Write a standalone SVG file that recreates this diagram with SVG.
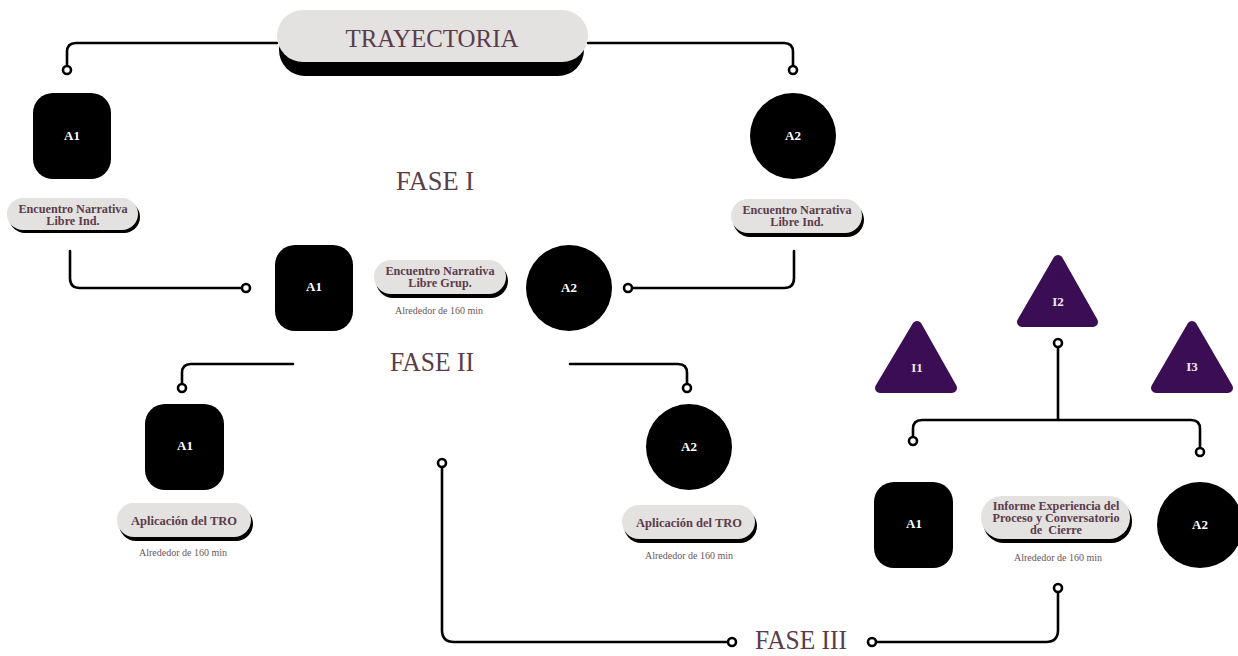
<svg xmlns="http://www.w3.org/2000/svg" width="1238" height="656" viewBox="0 0 1238 656">
<style>
.wire{fill:none;stroke:#000;stroke-width:2.6;stroke-linecap:round;stroke-linejoin:round}
.dot{fill:#fff;stroke:#000;stroke-width:2.6}
.node{fill:#000}
.nlab{font-family:"Liberation Serif",serif;font-weight:bold;font-size:13px;fill:#fff;text-anchor:middle}
.pill{fill:#e4e1e1}
.pshadow{fill:#000}
.ptxt{font-family:"Liberation Serif",serif;font-weight:bold;font-size:12.2px;fill:#5a3c4a;text-anchor:middle}
.ptxt2{font-family:"Liberation Serif",serif;font-weight:bold;font-size:12.5px;fill:#5a3c4a;text-anchor:middle}
.note{font-family:"Liberation Serif",serif;font-size:10px;fill:#6a5560;text-anchor:middle}
.fase{font-family:"Liberation Serif",serif;font-size:27px;fill:#5a3c4a;text-anchor:middle}
.tri{fill:#3b0d55;stroke:#3b0d55;stroke-width:10;stroke-linejoin:round}
.tlab{font-family:"Liberation Serif",serif;font-weight:bold;font-size:13px;fill:#efe6f0;text-anchor:middle}
</style>

<g id="connectors">
  <path class="wire" d="M277 43 H76 Q67 43 67 52 V66"/>
  <circle class="dot" cx="67" cy="70" r="4"/>
  <path class="wire" d="M588 43 H784 Q793 43 793 52 V66"/>
  <circle class="dot" cx="793" cy="70" r="4"/>
  <path class="wire" d="M70 251 V278 Q70 288 80 288 H242"/>
  <circle class="dot" cx="246" cy="288" r="4"/>
  <path class="wire" d="M794 251 V278 Q794 288 784 288 H632"/>
  <circle class="dot" cx="628" cy="288" r="4"/>
  <path class="wire" d="M293 364 H191 Q182 364 182 373 V384"/>
  <circle class="dot" cx="182" cy="388" r="4"/>
  <path class="wire" d="M570 364 H678 Q687 364 687 373 V384"/>
  <circle class="dot" cx="687" cy="388" r="4"/>
  <path class="wire" d="M442 467 V630 Q442 642 454 642 H728"/>
  <circle class="dot" cx="442" cy="463" r="4"/>
  <circle class="dot" cx="732" cy="642" r="4"/>
  <path class="wire" d="M876 642 H1046 Q1058 642 1058 630 V592"/>
  <circle class="dot" cx="872" cy="642" r="4"/>
  <circle class="dot" cx="1058" cy="588" r="4"/>
  <path class="wire" d="M1058 347 V420"/>
  <circle class="dot" cx="1058" cy="343" r="4"/>
  <path class="wire" d="M913 437 V429 Q913 420 922 420 H1191 Q1200 420 1200 429 V448"/>
  <circle class="dot" cx="913" cy="441" r="4"/>
  <circle class="dot" cx="1200" cy="452" r="4"/>
</g>

<g id="trayectoria">
  <rect class="pshadow" x="279" y="23" width="305" height="53" rx="26"/>
  <rect class="pill" x="277" y="10" width="311" height="52" rx="26"/>
  <text x="432" y="47" font-family="Liberation Serif, serif" font-size="26" fill="#5a3c4a" text-anchor="middle" textLength="173" lengthAdjust="spacingAndGlyphs">TRAYECTORIA</text>
</g>

<g id="fase1"><text class="fase" x="435" y="190" textLength="78" lengthAdjust="spacingAndGlyphs">FASE I</text></g>
<g id="fase2"><text class="fase" x="432" y="371" textLength="84" lengthAdjust="spacingAndGlyphs">FASE II</text></g>
<g id="fase3"><text class="fase" x="801" y="649" textLength="92" lengthAdjust="spacingAndGlyphs">FASE III</text></g>

<g id="a1-top">
  <rect class="node" x="33" y="93" width="78" height="86" rx="20"/>
  <text class="nlab" x="72" y="140">A1</text>
</g>
<g id="pill-ind-left">
  <rect class="pshadow" x="9" y="201" width="131" height="32" rx="16"/>
  <rect class="pill" x="7" y="198" width="131" height="32" rx="16"/>
  <text class="ptxt" x="73" y="213">Encuentro Narrativa</text>
  <text class="ptxt" x="73" y="225">Libre Ind.</text>
</g>

<g id="a2-top">
  <circle class="node" cx="793" cy="136" r="43"/>
  <text class="nlab" x="793" y="140">A2</text>
</g>
<g id="pill-ind-right">
  <rect class="pshadow" x="733" y="203" width="131" height="34" rx="17"/>
  <rect class="pill" x="731" y="199" width="131" height="34" rx="17"/>
  <text class="ptxt" x="797" y="214">Encuentro Narrativa</text>
  <text class="ptxt" x="797" y="226">Libre Ind.</text>
</g>

<g id="a1-mid">
  <rect class="node" x="275" y="245" width="78" height="86" rx="20"/>
  <text class="nlab" x="314" y="291">A1</text>
</g>
<g id="pill-grup">
  <rect class="pshadow" x="376" y="264" width="132" height="34" rx="17"/>
  <rect class="pill" x="374" y="260" width="132" height="34" rx="17"/>
  <text class="ptxt" x="440" y="275">Encuentro Narrativa</text>
  <text class="ptxt" x="440" y="287">Libre Grup.</text>
  <text class="note" x="439" y="314">Alrededor de 160 min</text>
</g>
<g id="a2-mid">
  <circle class="node" cx="569" cy="288" r="43"/>
  <text class="nlab" x="569" y="292">A2</text>
</g>

<g id="a1-bottom">
  <rect class="node" x="145" y="404" width="79" height="86" rx="20"/>
  <text class="nlab" x="185" y="450">A1</text>
</g>
<g id="pill-tro-left">
  <rect class="pshadow" x="119" y="507" width="134" height="34" rx="17"/>
  <rect class="pill" x="117" y="503" width="134" height="34" rx="17"/>
  <text class="ptxt2" x="184" y="525">Aplicación del TRO</text>
  <text class="note" x="183" y="556">Alrededor de 160 min</text>
</g>

<g id="a2-bottom">
  <circle class="node" cx="689" cy="447" r="43"/>
  <text class="nlab" x="689" y="451">A2</text>
</g>
<g id="pill-tro-right">
  <rect class="pshadow" x="624" y="509" width="133" height="34" rx="17"/>
  <rect class="pill" x="622" y="505" width="133" height="34" rx="17"/>
  <text class="ptxt2" x="689" y="527">Aplicación del TRO</text>
  <text class="note" x="689" y="559">Alrededor de 160 min</text>
</g>

<g id="i1">
  <polygon class="tri" points="917,326 880,388 952,388"/>
  <text class="tlab" x="917" y="372">I1</text>
</g>
<g id="i2">
  <polygon class="tri" points="1058,260 1022,322 1093,322"/>
  <text class="tlab" x="1058" y="306">I2</text>
</g>
<g id="i3">
  <polygon class="tri" points="1192,326 1156,388 1228,388"/>
  <text class="tlab" x="1192" y="371">I3</text>
</g>

<g id="a1-right">
  <rect class="node" x="874" y="482" width="79" height="86" rx="20"/>
  <text class="nlab" x="914" y="528">A1</text>
</g>
<g id="pill-informe">
  <rect class="pshadow" x="983" y="500" width="149" height="43" rx="21"/>
  <rect class="pill" x="981" y="496" width="149" height="43" rx="21"/>
  <text class="ptxt" x="1056" y="510">Informe Experiencia del</text>
  <text class="ptxt" x="1056" y="522">Proceso y Conversatorio</text>
  <text class="ptxt" x="1056" y="534" xml:space="preserve">de  Cierre</text>
  <text class="note" x="1058" y="561">Alrededor de 160 min</text>
</g>
<g id="a2-right">
  <circle class="node" cx="1200" cy="525" r="43"/>
  <text class="nlab" x="1200" y="529">A2</text>
</g>
</svg>
